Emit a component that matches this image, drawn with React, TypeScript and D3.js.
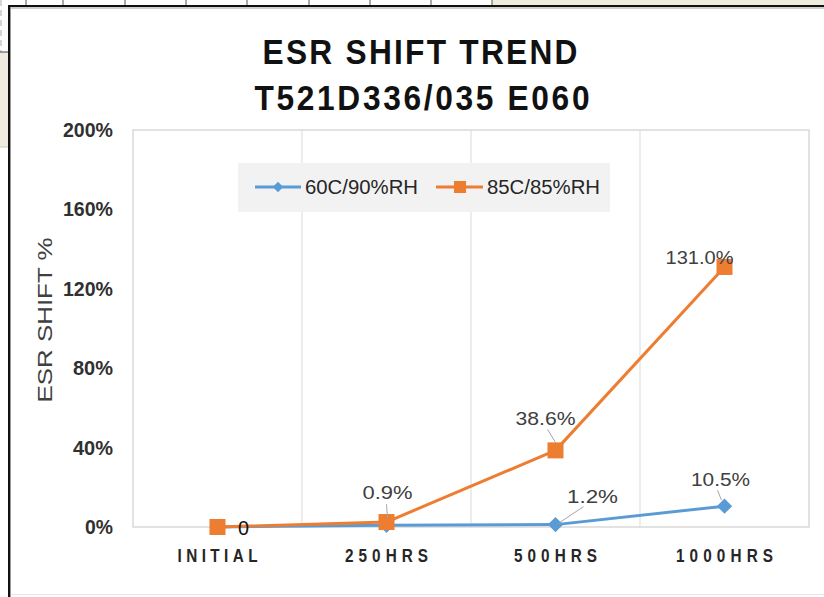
import React from 'react';
import * as d3 from 'd3';

const categories = ['INITIAL', '250HRS', '500HRS', '1000HRS'];
const seriesNames = ['60C/90%RH', '85C/85%RH'];
const blueValues = [0, 0.9, 1.2, 10.5];
const orangeValues = [0, 2.5, 38.6, 131.0];
const blueLabels = ['0', '0.9%', '1.2%', '10.5%'];
const orangeLabels = ['', '', '38.6%', '131.0%'];
const yTicks = [0, 40, 80, 120, 160, 200];

const BLUE = '#5B9BD5';
const ORANGE = '#ED7D31';
const FONT = '"Liberation Sans", Arial, sans-serif';

// label placement (offsets from the point), and leader lines
const blueLabelStyle = [
  { dx: 26, dy: 8, w: 11, size: 21, color: '#111', leader: null },
  { dx: 1, dy: -26, w: 50, size: 19, color: '#404040', leader: [1, -7, 0, -21] },
  { dx: 37, dy: -22, w: 51, size: 19, color: '#404040', leader: [4, -2, 28, -18] },
  { dx: -4, dy: -20, w: 59, size: 19, color: '#404040', leader: [-7, -16, -3, -6] },
];
const orangeLabelStyle = [
  null,
  null,
  { dx: -10, dy: -25, w: 60, size: 19, color: '#404040', leader: [-8, -21, 0, -8] },
  { dx: -25, dy: -3, w: 68, size: 19, color: '#404040', leader: null },
];

// condensed glyphs with tracking, like the screenshot's squeezed fonts
const Narrow = ({ x, y, sx, len, anchor = 'middle', children, ...rest }: any) => (
  <g transform={`translate(${x},${y}) scale(${sx},1)`}>
    <text x={0} y={0} textAnchor={anchor} fontFamily={FONT} textLength={len / sx}
      lengthAdjust="spacing" {...rest}>{children}</text>
  </g>
);

const App = () => {
  const width = 824, height = 597;

  const x = d3.scaleBand().domain(categories).range([133, 809]);
  const y = d3.scaleLinear().domain([0, 200]).range([527, 130]);
  const cx = (c: string) => (x(c) as number) + x.bandwidth() / 2;

  const line = d3.line<number>()
    .x((d, i) => cx(categories[i]))
    .y(d => y(d));

  const tableLines = [26, 63, 125, 186, 247, 309, 370, 431, 492];

  const renderLabels = (values: number[], labels: string[], styles: any[]) =>
    values.map((v, i) => {
      const s = styles[i];
      if (!s || !labels[i]) return null;
      const px = cx(categories[i]), py = y(v);
      return (
        <g key={i}>
          {s.leader && (
            <line x1={px + s.leader[0]} y1={py + s.leader[1]} x2={px + s.leader[2]} y2={py + s.leader[3]}
              stroke="#a6a6a6" strokeWidth={1} />
          )}
          <text x={px + s.dx} y={py + s.dy} textAnchor="middle" fontSize={s.size} fill={s.color}
            textLength={s.w} lengthAdjust="spacingAndGlyphs" fontFamily={FONT}>{labels[i]}</text>
        </g>
      );
    });

  return (
    <div style={{ position: 'fixed', left: 0, top: 0 }}>
      <svg width={width} height={height} style={{ display: 'block' }}>
        {/* surroundings of the screenshot */}
        <rect x={0} y={0} width={width} height={height} fill="#ffffff" />
        <rect x={492} y={0} width={332} height={6} fill="#efebdf" />
        {tableLines.map(t => (
          <line key={t} x1={t} x2={t} y1={0} y2={6} stroke="#555" strokeWidth={1} />
        ))}
        <line x1={1} x2={1} y1={0} y2={52} stroke="#c8c8c8" strokeWidth={1.5} strokeDasharray="6 4" />
        <rect x={0} y={52} width={8} height={95} fill="#efebdf" />
        <line x1={0} x2={8} y1={52} y2={52} stroke="#444" strokeWidth={1} />
        <line x1={0} x2={8} y1={147} y2={147} stroke="#d0ccc0" strokeWidth={1} />
        {/* chart frame */}
        <rect x={8} y={5} width={816} height={2} fill="#111" />
        <rect x={8} y={5} width={2} height={592} fill="#111" />
        <rect x={10} y={7} width={814} height={2} fill="#cfcfcf" />
        <rect x={10} y={7} width={1} height={590} fill="#9a9a9a" />
        <line x1={11} x2={824} y1={594.5} y2={594.5} stroke="#e6e6e6" strokeWidth={1} />

        {/* title */}
        <Narrow x={420} y={64} sx={0.88} len={315} fontWeight="bold" fontSize={36} fill="#111">ESR SHIFT TREND</Narrow>
        <Narrow x={422} y={110} sx={0.88} len={335} fontWeight="bold" fontSize={36} fill="#111">T521D336/035  E060</Narrow>

        {/* plot area */}
        <rect x={133} y={130} width={676} height={397} fill="none" stroke="#d9d9d9" strokeWidth={1.5} />
        {categories.slice(1).map(c => (
          <line key={c} x1={x(c)} x2={x(c)} y1={130} y2={527} stroke="#d9d9d9" strokeWidth={1} />
        ))}

        {/* y axis */}
        {yTicks.map(t => (
          <text key={t} x={113} y={y(t) + 7} textAnchor="end" fontFamily={FONT} fontSize={20} fontWeight="bold"
            fill="#303030" textLength={t >= 100 ? 50 : t > 0 ? 40 : 28} lengthAdjust="spacingAndGlyphs">{t}%</text>
        ))}
        <text transform="translate(52,320) rotate(-90)" textAnchor="middle" fontFamily={FONT} fontSize={20}
          fill="#404040" textLength={165} lengthAdjust="spacingAndGlyphs">ESR SHIFT %</text>

        {/* x axis */}
        {categories.map((c, i) => (
          <Narrow key={c} x={cx(c)} y={562} sx={0.85} len={[80, 83, 83, 97][i]} fontWeight="bold"
            fontSize={18} fill="#262626">{c}</Narrow>
        ))}

        {/* legend */}
        <rect x={238} y={163} width={372} height={49} fill="#f2f2f2" />
        <line x1={255} x2={301} y1={187} y2={187} stroke={BLUE} strokeWidth={3} />
        <path d={d3.symbol().type(d3.symbolDiamond2).size(70)() as string} transform="translate(278,187)" fill={BLUE} />
        <text x={305} y={194} fontFamily={FONT} fontSize={20} fill="#262626" textLength={113}
          lengthAdjust="spacingAndGlyphs">{seriesNames[0]}</text>
        <line x1={436} x2={483} y1={187} y2={187} stroke={ORANGE} strokeWidth={3} />
        <rect x={454} y={181} width={12} height={12} fill={ORANGE} />
        <text x={487} y={194} fontFamily={FONT} fontSize={20} fill="#262626" textLength={113}
          lengthAdjust="spacingAndGlyphs">{seriesNames[1]}</text>

        {/* series */}
        <path d={line(blueValues) as string} fill="none" stroke={BLUE} strokeWidth={3} strokeLinejoin="round" />
        {blueValues.map((v, i) => (
          <path key={i} d={d3.symbol().type(d3.symbolDiamond2).size(150)() as string}
            transform={`translate(${cx(categories[i])},${y(v)})`} fill={BLUE} />
        ))}
        <path d={line(orangeValues) as string} fill="none" stroke={ORANGE} strokeWidth={3} strokeLinejoin="round" />
        {orangeValues.map((v, i) => (
          <rect key={i} x={cx(categories[i]) - 8} y={y(v) - 8} width={16} height={16} fill={ORANGE} />
        ))}

        {renderLabels(blueValues, blueLabels, blueLabelStyle)}
        {renderLabels(orangeValues, orangeLabels, orangeLabelStyle)}
      </svg>
    </div>
  );
};

export default App;
